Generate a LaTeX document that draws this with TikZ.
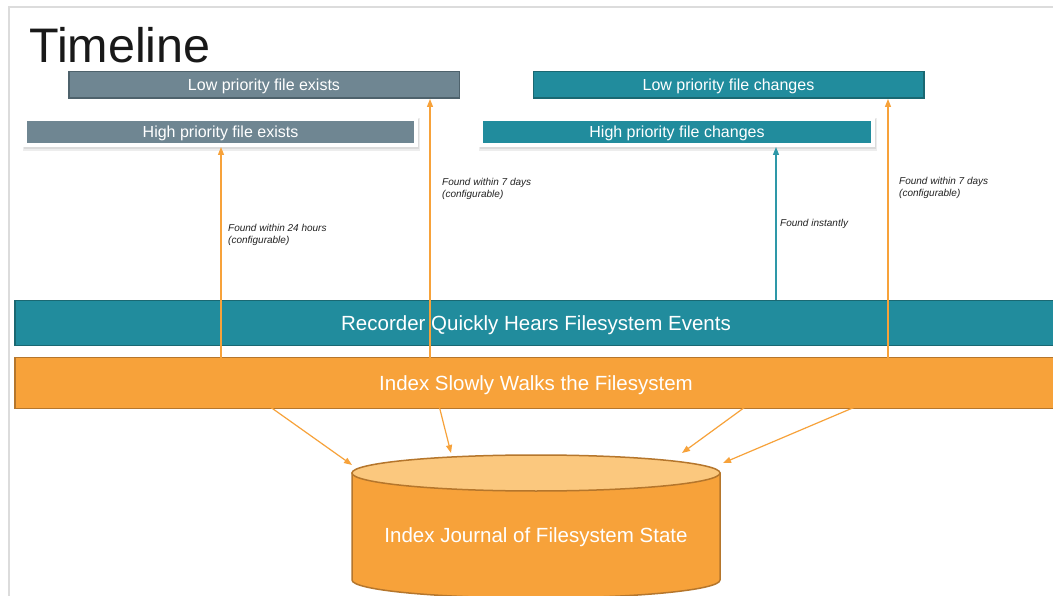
\documentclass[tikz,border=0pt]{standalone}
\usepackage{fontspec}
\setmainfont{Liberation Sans}
\usetikzlibrary{arrows.meta}
\definecolor{slate}{HTML}{6F8692}
\definecolor{slatedark}{HTML}{4E626C}
\definecolor{tealfill}{HTML}{218C9D}
\definecolor{tealdark}{HTML}{1A6872}
\definecolor{tealline}{HTML}{2E98A8}
\definecolor{orng}{HTML}{F7A23A}
\definecolor{orngdark}{HTML}{B5762C}
\definecolor{orngtop}{HTML}{FBC87E}
\definecolor{framegray}{HTML}{DCDCDC}
\definecolor{ink}{HTML}{222222}
\begin{document}
\begin{tikzpicture}[x=1pt,y=-1pt,
  lowbox/.style={draw, line width=1.5pt, minimum width=390.5pt, minimum height=26.5pt, inner sep=0pt, text height=11.5pt, text depth=0pt, text=white, font=\fontsize{16}{19}\selectfont},
  highbox/.style={draw=white, line width=4pt, minimum width=391pt, minimum height=26pt, inner sep=0pt, text height=11.5pt, text depth=0pt, text=white, font=\fontsize{16}{19}\selectfont},
  bar/.style={draw, line width=1.5pt, minimum width=1042pt, inner sep=0pt, text height=14.7pt, text depth=0pt, text=white, font=\fontsize{20.5}{24}\selectfont},
  note/.style={anchor=north west, inner sep=0pt, align=left, text=ink, font=\itshape\fontsize{10}{12.5}\selectfont},
  feed/.style={draw=orng, line width=1.2pt, -{Triangle[length=8pt,width=6pt]}},
  instant/.style={draw=tealline, line width=1.2pt, -{Triangle[length=8pt,width=6pt]}},
  shadowbox/.style={fill=black!14}
]
\useasboundingbox (0,0) rectangle (1053,596);
\clip (0,0) rectangle (1053,596);
\fill[white] (0,0) rectangle (1053,596);
% slide frame
\draw[framegray, line width=1.5pt] (9,600) -- (9,7) -- (1060,7);

% title
\node[anchor=base west, inner sep=0pt, font=\fontsize{48.5}{52}\selectfont, text=black!90] (title) at (29,63) {Timeline};

% target boxes
\node[lowbox, fill=slate, draw=slatedark] (lowex) at (264,85) {Low priority file exists};
\node[lowbox, fill=tealfill, draw=tealdark] (lowch) at (728.5,85) {Low priority file changes};

\fill[black!7] (22.5,118) rectangle (420,151.5);
\fill[shadowbox] (23.5,119) rectangle (419,149.5);
\node[highbox, fill=slate] (hiex) at (220.5,132) {High priority file exists};

\fill[black!7] (478.5,118) rectangle (877,151.5);
\fill[shadowbox] (479.5,119) rectangle (876,149.5);
\node[highbox, fill=tealfill, minimum width=392pt] (hich) at (677,132) {High priority file changes};

% bars
\node[bar, fill=tealfill, draw=tealdark, minimum height=45pt] (recorder) at (536,323) {Recorder Quickly Hears Filesystem Events};
\node[bar, fill=orng, draw=orngdark, minimum height=51pt] (index) at (536,383) {Index Slowly Walks the Filesystem};

% journal cylinder
\filldraw[fill=orng, draw=orngdark, line width=1.5pt]
  (352,473) -- (352,580) arc[start angle=180, end angle=360, x radius=184pt, y radius=18pt] -- (720,473) -- cycle;
\filldraw[fill=orngtop, draw=orngdark, line width=1.5pt] (536,473) ellipse[x radius=184pt, y radius=18pt];
\node[text=white, inner sep=0pt, text height=14.7pt, text depth=0pt, font=\fontsize{20.5}{24}\selectfont] (journal) at (536,535) {Index Journal of Filesystem State};

% connector coordinates
\coordinate (s1) at (221,372);
\coordinate (s2) at (430,370);
\coordinate (s3) at (778,383);
\coordinate (s4) at (888,393);
\coordinate (t3) at (776,300);
\coordinate (c1) at (352,465);
\coordinate (c2) at (451,453);
\coordinate (c3) at (682,453);
\coordinate (c4) at (723,463);

% connectors
\draw[feed] (s1) -- (hiex.south -| s1);
\draw[feed] (s1) -- (c1);
\draw[feed] (s2) -- (lowex.south -| s2);
\draw[feed] (s2) -- (c2);
\draw[instant] (t3) -- (hich.south -| t3);
\draw[feed] (s3) -- (c3);
\draw[feed] (s4) -- (lowch.south -| s4);
\draw[feed] (s4) -- (c4);

% labels
\node[note] (n1) at (228,224) {Found within 24 hours\\(configurable)};
\node[note] (n2) at (442,178) {Found within 7 days\\(configurable)};
\node[note] (n3) at (780,219) {Found instantly};
\node[note] (n4) at (899,177) {Found within 7 days\\(configurable)};
\end{tikzpicture}
\end{document}
